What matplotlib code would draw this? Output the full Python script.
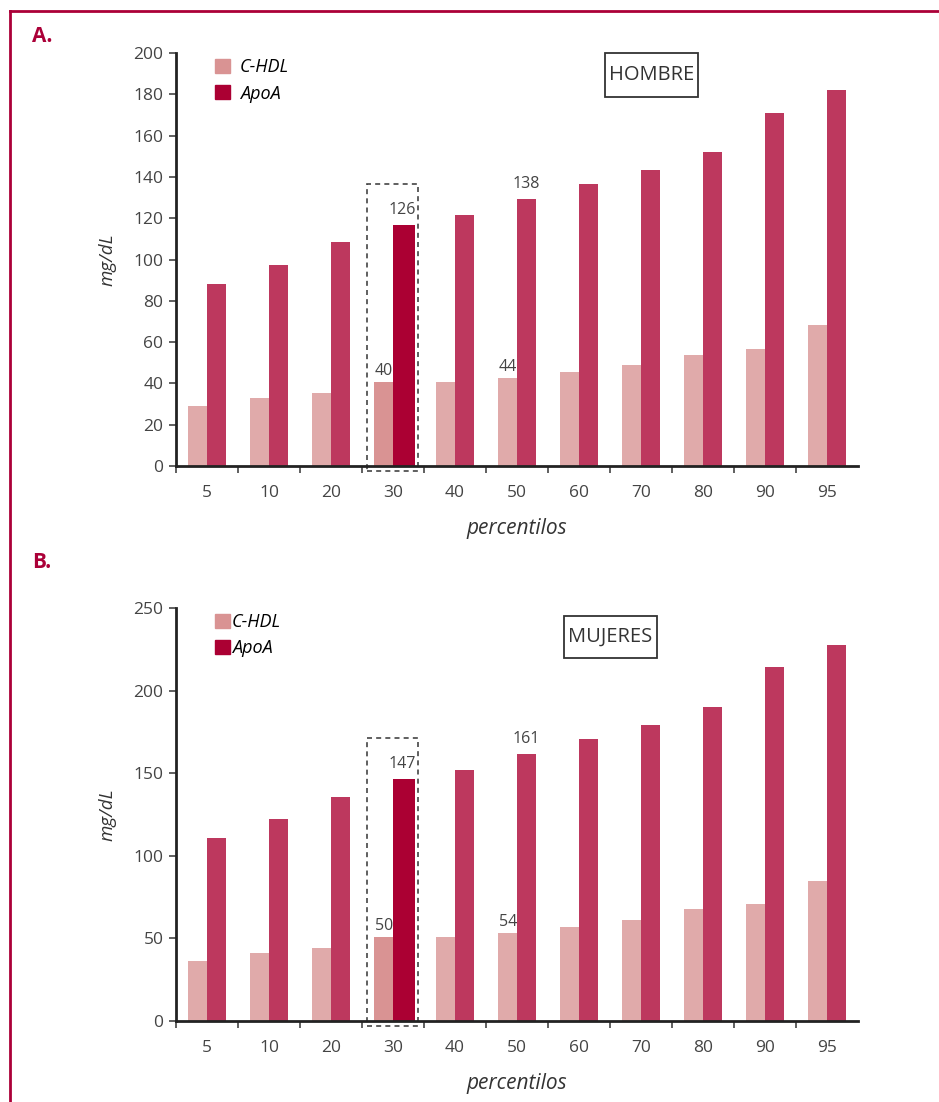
import numpy as np
import matplotlib.pyplot as plt
from matplotlib.patches import Patch, Rectangle
from matplotlib.lines import Line2D

plt.rcParams['font.family'] = ['Open Sans', 'DejaVu Sans']

# data
percentiles = ['5', '10', '20', '30', '40', '50', '60', '70', '80', '90', '95']
hombre_hdl = [29, 33, 35.4, 40.7, 40.7, 42.6, 45.5, 49, 54, 56.7, 68.3]
hombre_apoa = [88, 97.3, 108.5, 116.7, 121.5, 129.3, 136.6, 143.3, 152, 171, 182]
mujer_hdl = [36.3, 41, 44.2, 50.8, 51, 53.3, 57, 61, 68, 71, 85]
mujer_apoa = [111, 122, 135.6, 146.5, 152, 161.6, 170.7, 179, 190, 214, 227.6]
hombre_notes = [(3, '40', '126'), (5, '44', '138')]
mujer_notes = [(3, '50', '147'), (5, '54', '161')]
hombre_ticks = [0, 20, 40, 60, 80, 100, 120, 140, 160, 180, 200]
mujer_ticks = [0, 50, 100, 150, 200, 250]
highlight = 3

c_hdl = '#e0aaaa'
c_apoa = '#bd385e'
c_hdl_hi = '#d99393'
c_apoa_hi = '#ab0033'
red = '#ab0038'
grey = '#444444'

fig = plt.figure(figsize=(9.39, 11.02), dpi=100)


def panel(rect, hdl, apoa, notes, ticks, ymax, title, title_box, leg_pad):
    ax = fig.add_axes(rect)
    n = len(percentiles)
    x = np.arange(n)
    w = 0.3
    hdl_cols = [c_hdl_hi if i == highlight else c_hdl for i in range(n)]
    apoa_cols = [c_apoa_hi if i == highlight else c_apoa for i in range(n)]
    apoa_w = [0.35 if i == highlight else w for i in range(n)]
    ax.bar(x + 0.2, hdl, width=w, color=hdl_cols, align='edge')
    ax.bar(x + 0.5, apoa, width=apoa_w, color=apoa_cols, align='edge')

    # dashed box around the highlighted percentile
    top = apoa[highlight] * 1.17
    box = Rectangle((highlight + 0.08, -0.012 * ymax), 0.82, top + 0.012 * ymax,
                    fill=False, ls=(0, (3, 2.5)), lw=1.2, ec=grey, clip_on=False)
    ax.add_patch(box)

    for i, t1, t2 in notes:
        ax.annotate(t1, (i + 0.35, hdl[i]), xytext=(0, 2), textcoords='offset points',
                    ha='center', va='bottom', fontsize=11.5, color=grey)
        ax.annotate(t2, (i + 0.65, apoa[i]), xytext=(0, 5), textcoords='offset points',
                    ha='center', va='bottom', fontsize=11.5, color=grey)

    ax.set_xlim(0, n)
    ax.set_ylim(0, ymax)
    ax.set_yticks(ticks)
    ax.set_xticks(np.arange(n))
    ax.set_xticklabels([])
    ax.set_xticks(x + 0.5, minor=True)
    ax.set_xticklabels(percentiles, minor=True)
    ax.tick_params(axis='x', which='minor', length=0, pad=14, labelsize=12.5, labelcolor=grey)
    ax.tick_params(axis='x', which='major', length=5, width=1.2, color=grey)
    ax.tick_params(axis='y', length=5, width=1.2, color=grey, pad=4, labelsize=12.5, labelcolor=grey)
    for s in ['top', 'right']:
        ax.spines[s].set_visible(False)
    for s in ['left', 'bottom']:
        ax.spines[s].set_linewidth(2)
        ax.spines[s].set_color('#222222')

    ax.set_xlabel('percentilos', style='italic', fontsize=15, color='#333333', labelpad=12)
    ax.set_ylabel('mg/dL', style='italic', fontsize=13.5, color='#333333', labelpad=12)

    handles = [Patch(color=c_hdl_hi, label='C-HDL'), Patch(color=c_apoa_hi, label='ApoA')]
    ax.legend(handles=handles, loc='upper left', bbox_to_anchor=(0.057, 0.987),
              frameon=False, borderaxespad=0, borderpad=0,
              handlelength=0.85, handleheight=0.85, handletextpad=leg_pad,
              labelspacing=0.45, prop={'style': 'italic', 'size': 13})

    x0, x1, y0, y1 = title_box
    ax.add_patch(Rectangle((x0, y0), x1 - x0, y1 - y0, transform=ax.transAxes,
                           fill=False, ec='#333333', lw=1.3, clip_on=False))
    ax.text((x0 + x1) / 2, (y0 + y1) / 2, title, transform=ax.transAxes,
            ha='center', va='center', fontsize=14.5, color='#333333')
    return ax


panel([0.1874, 0.5771, 0.7263, 0.3748], hombre_hdl, hombre_apoa, hombre_notes,
      hombre_ticks, 200, 'HOMBRE', (0.629, 0.765, 0.893, 1.0), 0.55)
panel([0.1874, 0.0735, 0.7263, 0.3748], mujer_hdl, mujer_apoa, mujer_notes,
      mujer_ticks, 250, 'MUJERES', (0.569, 0.705, 0.879, 0.981), 0.1)

fig.text(32 / 939, 1 - 36 / 1102, 'A.', fontsize=15, fontweight='bold', color=red, va='center')
fig.text(32 / 939, 1 - 562 / 1102, 'B.', fontsize=15, fontweight='bold', color=red, va='center')

# frame
fig.add_artist(Line2D([10 / 939, 1], [1 - 11 / 1102, 1 - 11 / 1102], color=red, lw=2))
fig.add_artist(Line2D([10 / 939, 10 / 939], [0, 1 - 11 / 1102], color=red, lw=2))

fig.savefig('out.png', dpi=100)
